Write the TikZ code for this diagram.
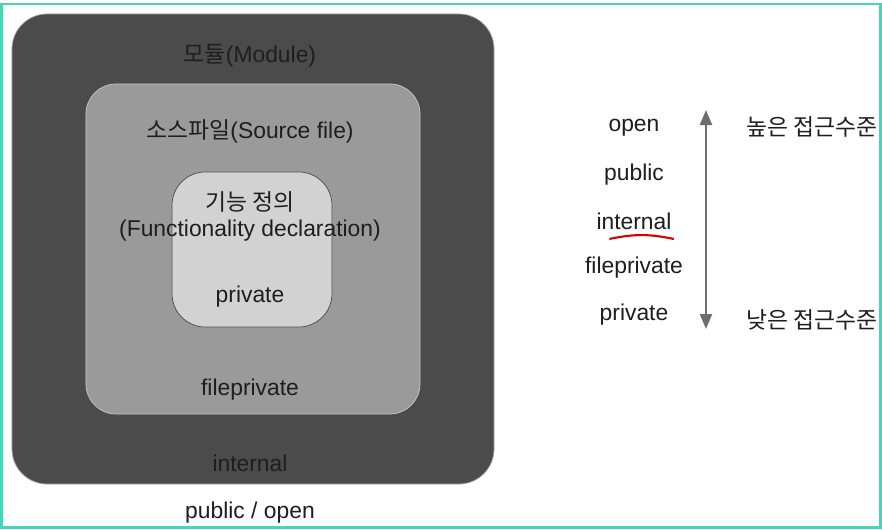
\documentclass[tikz,border=0pt]{standalone}
\usepackage{fontspec}
\setmainfont{Liberation Sans}
\newfontfamily\kr{Noto Sans CJK KR}
\usetikzlibrary{arrows.meta,positioning}
\definecolor{frameteal}{HTML}{45D6B8}
\definecolor{modfill}{HTML}{4B4B4B}
\definecolor{srcfill}{HTML}{9A9A9A}
\definecolor{fnfill}{HTML}{D2D2D2}
\definecolor{txt}{HTML}{1E1E1E}
\definecolor{arr}{HTML}{6E6E6E}

\begin{document}
\begin{tikzpicture}[
  x=0.03cm, y=-0.03cm,
  modbox/.style={draw=gray!70, line width=0.6pt, fill=modfill, rounded corners=1.05cm, minimum width=14.46cm, minimum height=14.1cm, inner sep=0pt},
  srcbox/.style={draw=gray!45, line width=0.6pt, fill=srcfill, rounded corners=0.9cm, minimum width=10.02cm, minimum height=9.9cm, inner sep=0pt},
  fnbox/.style={draw=black!70, line width=0.6pt, fill=fnfill, rounded corners=1cm, minimum width=4.8cm, minimum height=4.65cm, inner sep=0pt},
  lbl/.style={font=\fontsize{19.5}{22}\selectfont, text=txt, inner sep=1pt},
  edg/.style={{Triangle[length=4.5mm,width=3.6mm]}-{Triangle[length=4.5mm,width=3.6mm]}, line width=2pt, arr}
]
\useasboundingbox (0,0) rectangle (882,530);
\fill[white] (0,0) rectangle (882,530);
\draw[frameteal, line width=2.4pt] (1.5,4) rectangle (880.5,527.5);

% nested scopes
\node[modbox] (mod) at (253,249) {};
\node[srcbox] (src) at (253,249) {};
\node[fnbox] (fn) at (252,249.5) {};

\node[lbl] (modT) at (250,56) {{\kr 모듈}(Module)};
\node[lbl] (srcT) at (250,131) {{\kr 소스파일}(Source file)};
\node[lbl] (fnT) at (250,202) {\kr 기능 정의};
\node[lbl] (fnE) at (250,231) {(Functionality declaration)};
\node[lbl] (fnP) at (250,297) {private};
\node[lbl] (srcP) at (250,390) {fileprivate};
\node[lbl] (modP) at (250,463) {internal};
\node[lbl] (pubP) at (250,513) {public / open};

% access levels
\node[lbl] (lOpen) at (634,128) {open};
\node[lbl] (lPub) at (634,175) {public};
\node[lbl] (lInt) at (634,221) {internal};
\node[lbl] (lFile) at (634,268) {fileprivate};
\node[lbl] (lPriv) at (634,315) {private};
\draw[red!85!black, line width=1.8pt] ([xshift=-21pt,yshift=-7pt]lInt.south) to[bend left=12] ([xshift=34pt,yshift=-7pt]lInt.south);

\coordinate (top) at (706,110);
\coordinate (bot) at (706,329);
\draw[edg] (bot) -- (top);
\node[lbl] (hi) at (812,127) {\kr 높은 접근수준};
\node[lbl] (lo) at (812,320) {\kr 낮은 접근수준};
\end{tikzpicture}
\end{document}
